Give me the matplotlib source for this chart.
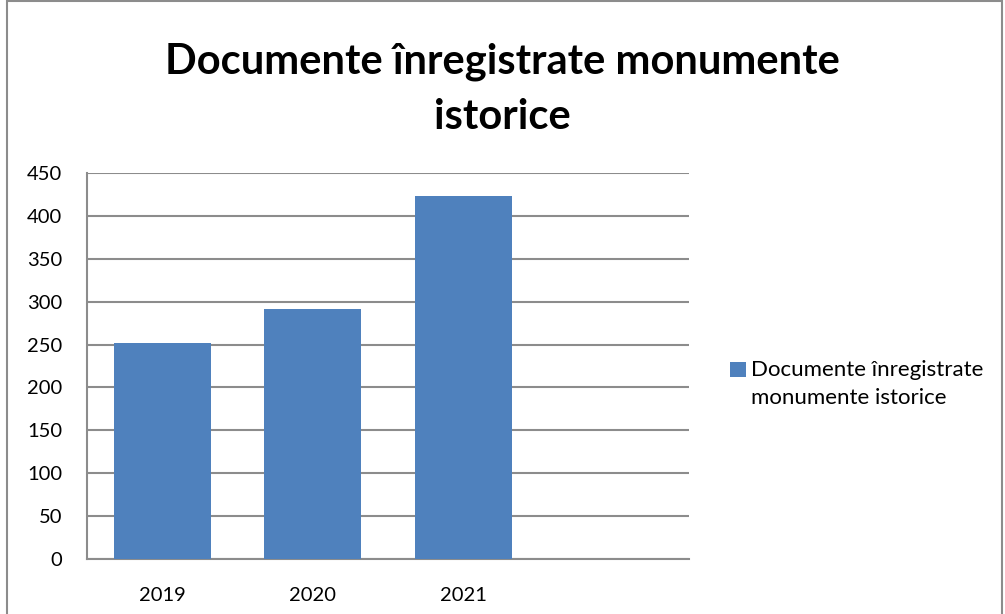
import matplotlib
matplotlib.use("Agg")
import matplotlib.pyplot as plt
from matplotlib.patches import Rectangle
from matplotlib.container import BarContainer
from matplotlib.legend_handler import HandlerPatch, update_from_first_child

categories = ["2019", "2020", "2021", ""]
values = [252, 292, 423, 0]
series_name = "Documente înregistrate\nmonumente istorice"
title = "Documente înregistrate monumente\nistorice"
yticks = [0, 50, 100, 150, 200, 250, 300, 350, 400, 450]

plt.rcParams['font.family'] = ['Lato', 'DejaVu Sans']

W, H = 1005, 614
fig = plt.figure(figsize=(W / 100, H / 100), dpi=100)
ax = fig.add_axes([87 / W, 1 - 559 / H, (689 - 87) / W, (559 - 173) / H])

x = list(range(len(categories)))
bars = ax.bar(x[:3], values[:3], width=0.645, color="#4F81BD", label=series_name, zorder=3)
ax.set_xlim(-0.5, 3.5)
ax.set_ylim(0, 450)
ax.set_xticks(x)
ax.set_xticklabels(categories, fontsize=14.5)
ax.set_yticks(yticks)
ax.set_yticklabels([str(v) for v in yticks], fontsize=14.5)
ax.tick_params(axis='y', length=0, pad=18)
ax.tick_params(axis='x', length=0, pad=20)
ax.grid(axis='y', color="#8C8C8C", linewidth=1.5, zorder=0)
for s in ["top", "right"]:
    ax.spines[s].set_visible(False)
for s in ["left", "bottom"]:
    ax.spines[s].set_color("#8C8C8C")
    ax.spines[s].set_linewidth(1.5)

fig.text(0.5, 1 - 89 / H, title, ha="center", va="center", fontsize=30,
         fontweight="bold", linespacing=1.55)


def top_square(legend, orig_handle, xdescent, ydescent, width, height, fontsize):
    return Rectangle((-xdescent, -ydescent + 10.5), width, height)


leg = fig.legend(handles=[bars], labels=[series_name], loc="center left",
                 bbox_to_anchor=(710 / W, 1 - 384 / H), frameon=False, fontsize=16,
                 handlelength=0.7, handleheight=0.7, handletextpad=0.25,
                 handler_map={BarContainer: HandlerPatch(patch_func=top_square,
                                                         update_func=update_from_first_child)})
for t in leg.get_texts():
    t.set_linespacing(1.55)

fig.patches.append(Rectangle((7 / W, -0.01), (1002 - 7) / W, 1 - 1 / H + 0.01,
                             transform=fig.transFigure, fill=False,
                             edgecolor="#8C8C8C", linewidth=1.5))

fig.savefig("out.png", dpi=100)
